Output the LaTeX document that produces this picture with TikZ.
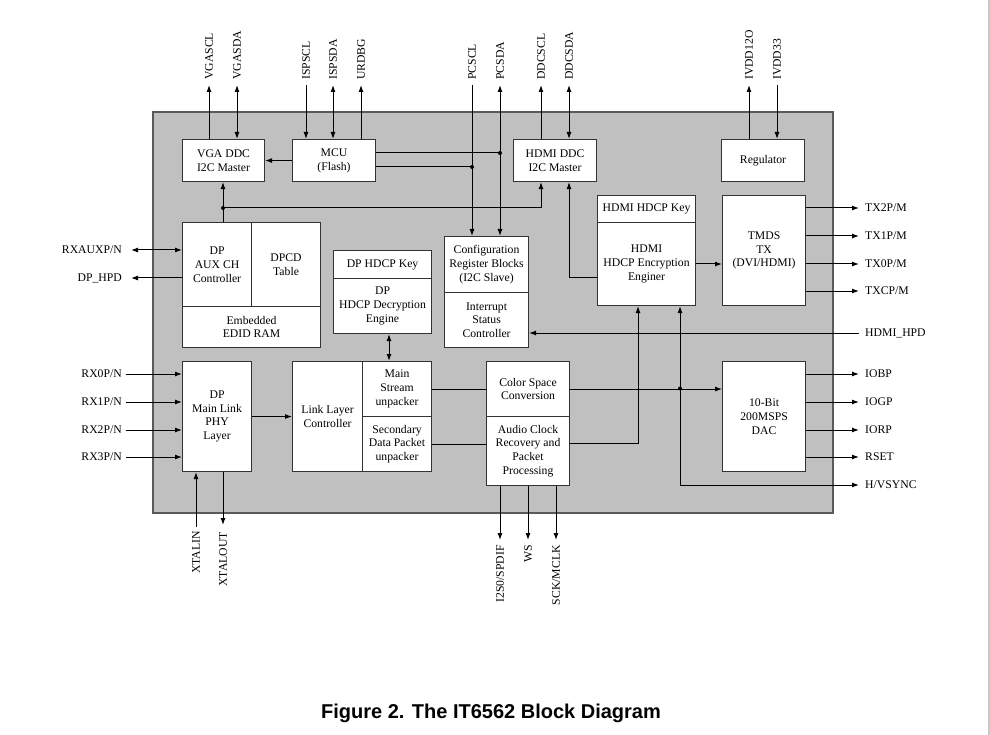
\documentclass[tikz,border=0pt]{standalone}
\usepackage{fontspec}
\setmainfont{Liberation Serif}
\newfontfamily\capfont{Liberation Sans}
\usetikzlibrary{arrows.meta}
\newcommand{\fs}{\fontsize{11.7}{13.7}\selectfont}
\definecolor{chipgray}{HTML}{C0C0C0}
\definecolor{chipedge}{HTML}{5A5A5A}
\definecolor{edgegray}{HTML}{C8C8C8}
\tikzset{
  blk/.style={draw=black!80, line width=1.1pt, fill=white, align=center, inner sep=0pt, anchor=north west, font=\fs},
  lbl/.style={inner sep=0pt, font=\fs},
  ar/.style={-{Latex[length=7pt,width=5pt]}, line width=1pt},
  dar/.style={{Latex[length=7pt,width=5pt]}-{Latex[length=7pt,width=5pt]}, line width=1pt},
  ln/.style={line width=1pt},
  jdot/.style={circle, fill=black, inner sep=0pt, minimum size=4pt},
}
\begin{document}
\begin{tikzpicture}[x=1pt,y=-1pt]
\useasboundingbox (0,0) rectangle (990,735);
\fill[white] (0,0) rectangle (990,735);
\fill[edgegray] (988,0) rectangle (990,735);
% chip body
\draw[chipedge, fill=chipgray, line width=1.2pt] (153,112) rectangle (833,513);

% blocks
\node[blk, minimum width=82, minimum height=42] (vga) at (182,139) {VGA DDC\\I2C Master};
\node[blk, minimum width=83, minimum height=42] (mcu) at (292,139) {MCU\\(Flash)};
\node[blk, minimum width=83, minimum height=42] (hddc) at (513,139) {HDMI DDC\\I2C Master};
\node[blk, minimum width=83, minimum height=42] (reg) at (721,139) {Regulator};
\node[blk, minimum width=69, minimum height=84] (auxc) at (182,222) {DP\\AUX CH\\Controller};
\node[blk, minimum width=69, minimum height=84] (dpcd) at (251,222) {DPCD\\Table};
\node[blk, minimum width=138, minimum height=41] (edid) at (182,306) {Embedded\\EDID RAM};
\node[blk, minimum width=98, minimum height=28] (dkey) at (333,250) {DP HDCP Key};
\node[blk, minimum width=98, minimum height=55] (ddec) at (333,278) {DP\\HDCP Decryption\\Engine};
\node[blk, minimum width=84, minimum height=56] (cfg) at (444,236) {Configuration\\Register Blocks\\(I2C Slave)};
\node[blk, minimum width=84, minimum height=55] (irq) at (444,292) {Interrupt\\Status\\Controller};
\node[blk, minimum width=98, minimum height=27] (hkey) at (597,195) {HDMI HDCP Key};
\node[blk, minimum width=98, minimum height=83] (henc) at (597,222) {HDMI\\HDCP Encryption\\Enginer};
\node[blk, minimum width=83, minimum height=110] (tmds) at (722,195) {TMDS\\TX\\(DVI/HDMI)};
\node[blk, minimum width=69, minimum height=110] (phy) at (182,361) {DP\\Main Link\\PHY\\Layer};
\node[blk, minimum width=70, minimum height=110] (llc) at (292,361) {Link Layer\\Controller};
\node[blk, minimum width=69, minimum height=55] (mstr) at (362,361) {Main\\Stream\\unpacker};
\node[blk, minimum width=69, minimum height=55] (sec) at (362,416) {Secondary\\Data Packet\\unpacker};
\node[blk, minimum width=83, minimum height=55] (csc) at (486,361) {Color Space\\Conversion};
\node[blk, minimum width=83, minimum height=69] (acr) at (486,416) {Audio Clock\\Recovery and\\Packet\\Processing};
\node[blk, minimum width=83, minimum height=110] (dac) at (722,361) {10-Bit\\200MSPS\\DAC};

% top pins
\foreach \n/\x in {VGASCL/209, VGASDA/237, ISPSCL/306, ISPSDA/333, URDBG/361, PCSCL/472, PCSDA/500, DDCSCL/541, DDCSDA/569, IVDD12O/749, IVDD33/777} {
  \coordinate (t\n) at (\x,85);
  \node[lbl, rotate=90, anchor=west] (l\n) at (\x,80) {\n};
}
\draw[ar] (vga.north -| tVGASCL) -- (tVGASCL);
\draw[dar] (vga.north -| tVGASDA) -- (tVGASDA);
\draw[ar] (tISPSCL) -- (mcu.north -| tISPSCL);
\draw[dar] (mcu.north -| tISPSDA) -- (tISPSDA);
\draw[ar] (mcu.north -| tURDBG) -- (tURDBG);
\draw[ar] (tPCSCL) -- (cfg.north -| tPCSCL);
\draw[dar] (cfg.north -| tPCSDA) -- (tPCSDA);
\draw[ar] (hddc.north -| tDDCSCL) -- (tDDCSCL);
\draw[dar] (hddc.north -| tDDCSDA) -- (tDDCSDA);
\draw[ar] (reg.north -| tIVDD12O) -- (tIVDD12O);
\draw[ar] (tIVDD33) -- (reg.north -| tIVDD33);

% MCU connections
\draw[ar] (mcu.west) -- (vga.east);
\coordinate (jA) at (500,153);
\coordinate (jB) at (472,167);
\draw[ln] (mcu.east |- jA) -- (jA);
\draw[ln] (mcu.east |- jB) -- (jB);
\node[jdot] (dA) at (jA) {};
\node[jdot] (dB) at (jB) {};

% I2C bus to masters
\coordinate (jC) at (223,208);
\draw[ar] (auxc.north -| jC) -- (vga.south -| jC);
\coordinate (kC) at (541,208);
\draw[ar] (jC) -- (kC) -- (hddc.south -| kC);
\node[jdot] (dC) at (jC) {};
\coordinate (kD) at (569,278);
\draw[ar] (henc.west |- kD) -- (kD) -- (hddc.south -| kD);

% left pins
\foreach \n/\y in {{RXAUXP/N}/250, {DP\_HPD}/278, {RX0P/N}/374, {RX1P/N}/402, {RX2P/N}/430, {RX3P/N}/457} {
  \node[lbl, anchor=east] at (122,\y) {\n};
}
\coordinate (lAUX) at (131,250);
\coordinate (lHPD) at (131,278);
\draw[dar] (lAUX) -- (auxc.west |- lAUX);
\draw[ar] (auxc.west |- lHPD) -- (lHPD);
\foreach \y in {374,402,430,457} {
  \coordinate (lRX\y) at (126,\y);
  \draw[ar] (lRX\y) -- (phy.west |- lRX\y);
}

% datapath
\coordinate (kE) at (389,340);
\draw[dar] (ddec.south -| kE) -- (mstr.north -| kE);
\draw[ar] (phy.east) -- (llc.west);
\draw[ln] (mstr.east) -- (mstr.east -| csc.west);
\draw[ln] (sec.east) -- (sec.east -| acr.west);
\coordinate (jF) at (680,388.5);
\draw[ar] (csc.east) -- (csc.east -| dac.west);
\node[jdot] (dF) at (jF) {};
\coordinate (kH) at (680,485);
\draw[ar] (kH) -- (henc.south -| kH);
\coordinate (kG) at (638,443.5);
\draw[ar] (acr.east |- kG) -- (kG) -- (henc.south -| kG);
\coordinate (kT) at (700,264);
\draw[ar] (henc.east |- kT) -- (tmds.west |- kT);

% right pins
\foreach \n/\y in {{TX2P/M}/208, {TX1P/M}/236, {TX0P/M}/264, {TXCP/M}/291, {HDMI\_HPD}/333, {IOBP}/374, {IOGP}/402, {IORP}/430, {RSET}/457, {H/VSYNC}/485} {
  \node[lbl, anchor=west] at (865,\y) {\n};
}
\foreach \y in {208,236,264,291} {
  \coordinate (rT\y) at (859,\y);
  \draw[ar] (tmds.east |- rT\y) -- (rT\y);
}
\foreach \y in {374,402,430,457} {
  \coordinate (rD\y) at (859,\y);
  \draw[ar] (dac.east |- rD\y) -- (rD\y);
}
\coordinate (rHPD) at (859,333);
\draw[ar] (rHPD) -- (irq.east |- rHPD);
\coordinate (rHV) at (859,485);
\draw[ar] (kH) -- (rHV);

% bottom pins
\coordinate (bXI) at (196,527);
\coordinate (bXO) at (223,525);
\draw[ar] (bXI) -- (phy.south -| bXI);
\draw[ar] (phy.south -| bXO) -- (bXO);
\node[lbl, rotate=90, anchor=east] at (196,531) {XTALIN};
\node[lbl, rotate=90, anchor=east] at (223,532) {XTALOUT};
\foreach \n/\x in {{I2S0/SPDIF}/500, {WS}/528, {SCK/MCLK}/556} {
  \coordinate (b\x) at (\x,540);
  \draw[ar] (acr.south -| b\x) -- (b\x);
  \node[lbl, rotate=90, anchor=east] at (\x,545) {\n};
}

% caption
\node[inner sep=0pt, font=\capfont\bfseries\fontsize{20}{24}\selectfont] (cap) at (491,713) {Figure 2. The IT6562 Block Diagram};
\end{tikzpicture}
\end{document}
